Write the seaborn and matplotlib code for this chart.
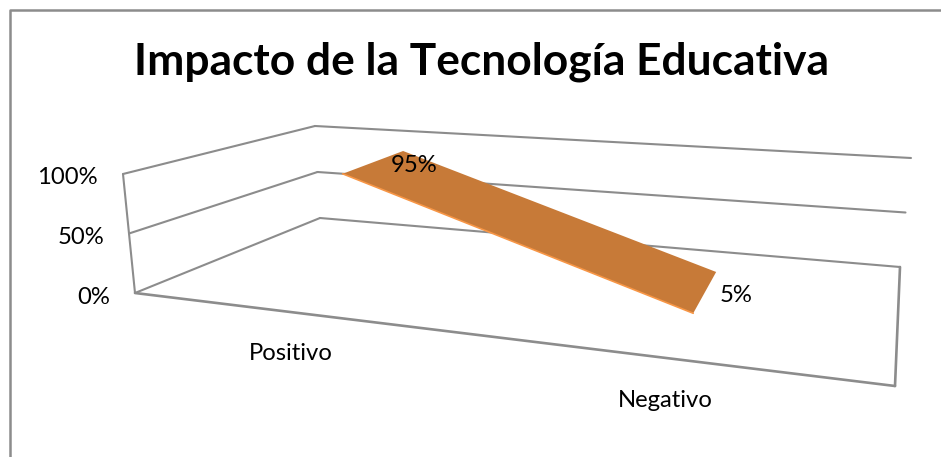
import matplotlib
matplotlib.use("Agg")
import matplotlib.pyplot as plt
import numpy as np
import pandas as pd
import seaborn as sns

TITLE = "Impacto de la Tecnología Educativa"
categories = ["Positivo", "Negativo"]
values = [0.95, 0.05]
value_labels = ["95%", "5%"]
axis_ticks = [0.0, 0.5, 1.0]
tick_labels = ["0%", "50%", "100%"]

# where the 3d box ends up on the canvas, (x, y) in pixels
# keys are (across, depth, height)
BOX = {
    (0, 0, 0): (135, 293), (1, 0, 0): (895, 386),
    (0, 1, 0): (320, 218), (1, 1, 0): (900, 267),
    (0, 0, 1): (123, 174), (1, 0, 1): (905, 246),
    (0, 1, 1): (315, 126), (1, 1, 1): (911, 158),
}
CATEGORY_POS = [0.208, 0.706]
RIBBON_DEPTH = (0.37, 0.765)
GRID_COLOR = "#8c8c8c"
FILL_COLOR = "#c77a38"
EDGE_COLOR = "#f79646"


def project(u, d, v):
    x, y = 0.0, 0.0
    for (a, b, c), (px, py) in BOX.items():
        w = (u if a else 1 - u) * (d if b else 1 - d) * (v if c else 1 - v)
        x += w * px
        y += w * py
    return x, y


def edge(ax, start, end, lw=1.5):
    pts = pd.DataFrame([project(*start), project(*end)], columns=["x", "y"])
    sns.lineplot(data=pts, x="x", y="y", sort=False, estimator=None,
                 color=GRID_COLOR, linewidth=lw, ax=ax)


def main():
    sns.set_theme(style="white")
    plt.rcParams["font.family"] = ["Lato", "DejaVu Sans"]

    fig = plt.figure(figsize=(9.41, 4.57), dpi=100)
    ax = fig.add_axes([0, 0, 1, 1])
    ax.set_xlim(0, 941)
    ax.set_ylim(457, 0)
    ax.axis("off")

    # chart frame, runs off the right and bottom of the picture
    frame = pd.DataFrame({"x": [10, 10, 941], "y": [457, 9.5, 9.5]})
    sns.lineplot(data=frame, x="x", y="y", sort=False, estimator=None,
                 color=GRID_COLOR, linewidth=1.8, ax=ax)

    for v in axis_ticks:
        edge(ax, (0, 0, v), (0, 1, v))
        edge(ax, (0, 1, v), (1, 1, v))
    edge(ax, (0, 0, 0), (0, 0, 1))
    edge(ax, (0, 0, 0), (1, 0, 0), lw=1.9)
    edge(ax, (1, 0, 0), (1, 1, 0), lw=1.9)

    near, far = RIBBON_DEPTH
    ribbon = [project(CATEGORY_POS[0], near, values[0]),
              project(CATEGORY_POS[0], far, values[0]),
              project(CATEGORY_POS[1], far, values[1]),
              project(CATEGORY_POS[1], near, values[1])]
    ax.fill([p[0] for p in ribbon], [p[1] for p in ribbon],
            color=FILL_COLOR, linewidth=0, zorder=3)
    low = pd.DataFrame([ribbon[0], ribbon[3]], columns=["x", "y"])
    sns.lineplot(data=low, x="x", y="y", sort=False, estimator=None,
                 color=EDGE_COLOR, linewidth=1.2, ax=ax, zorder=4)

    for v, label in zip(axis_ticks, tick_labels):
        x, y = project(0, 0, v)
        ax.text(x - 25, y + 4, label, ha="right", va="center",
                fontsize=17.2, color="black")

    for u, label, dx in zip(CATEGORY_POS, categories, [-2, -6]):
        x, y = project(u, 0, 0)
        ax.text(x + dx, y + 41.5, label, ha="center", va="center",
                fontsize=17.2, color="black")

    offsets = [(11, 15), (20, 24)]
    for u, v, label, (dx, dy) in zip(CATEGORY_POS, values, value_labels, offsets):
        x, y = project(u, far, v)
        ax.text(x + dx, y + dy, label, ha="center", va="center",
                fontsize=17.2, color="black", zorder=5)

    ax.text(481.5, 62, TITLE, ha="center", va="center", fontsize=31.9,
            fontweight="bold", color="black")

    fig.savefig("out.png", dpi=100)


if __name__ == "__main__":
    main()
